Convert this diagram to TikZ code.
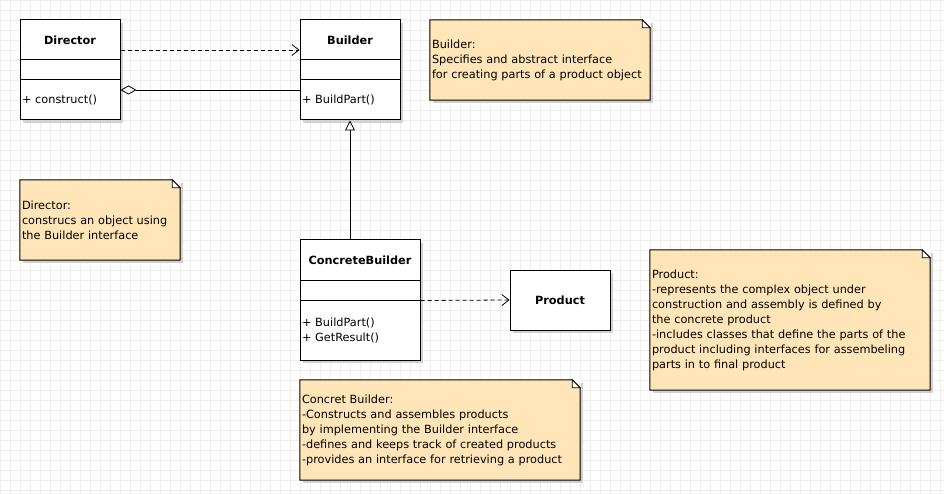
\documentclass[tikz,border=0pt]{standalone}
\usepackage{color, xcolor}
\usepackage{fontspec}
\setmainfont{DejaVu Sans}
\usepackage{tikz}
\usetikzlibrary{positioning,shapes,shadows,arrows.meta,calc}

\definecolor{notefill}{RGB}{255,229,183}
\definecolor{gridgray}{RGB}{238,238,238}

\tikzset{
  umlshadow/.style={drop shadow={shadow xshift=3pt, shadow yshift=-3pt, fill=black!18, opacity=1}},
  umlpart/.style={draw, line width=1pt, fill=white, inner sep=0pt, umlshadow},
  umlname/.style={umlpart, font=\fontsize{11.3}{15}\selectfont\bfseries},
  umlops/.style={umlpart, align=left, inner xsep=2pt},
  note/.style={fill=notefill, inner xsep=2pt, inner ysep=0pt, align=left, umlshadow},
  dep/.style={line width=0.8pt, dash pattern=on 4pt off 3pt, -{Straight Barb[length=7pt,width=11pt]}},
}

\begin{document}
\begin{tikzpicture}[x=1pt, y=-1pt, font=\fontsize{11.3}{15}\selectfont]
            \fill[white] (0,0) rectangle (944,494);
            \useasboundingbox (0,0) rectangle (944,494);
            \draw[gridgray, line width=0.8pt, step=10pt] (0,0) grid (944,494);

            % classes
            \node[umlname, minimum width=100pt, minimum height=40pt] (dirname) at (70,40) {Director};
            \node[umlpart, minimum width=100pt, minimum height=20pt] (dirattr) at (70,70) {};
            \node[umlops, text width=96pt, minimum height=40pt] (dirops) at (70,100) {+ construct()};

            \node[umlname, minimum width=100pt, minimum height=40pt] (bldname) at (350,40) {Builder};
            \node[umlpart, minimum width=100pt, minimum height=20pt] (bldattr) at (350,70) {};
            \node[umlops, text width=96pt, minimum height=40pt] (bldops) at (350,100) {+ BuildPart()};

            \node[umlname, minimum width=120pt, minimum height=40pt] (cbname) at (360,260) {ConcreteBuilder};
            \node[umlpart, minimum width=120pt, minimum height=20pt] (cbattr) at (360,290) {};
            \node[umlops, text width=116pt, minimum height=60pt] (cbops) at (360,330) {+ BuildPart()\\+ GetResult()};

            \node[umlname, minimum width=100pt, minimum height=60pt] (prodbox) at (560,300) {Product};

            % notes
            \node[note, text width=216pt, minimum height=80pt] (bldnote) at (540,60)
              {Builder:\\Specifies and abstract interface\\for creating parts of a product object};
            \node[note, text width=156pt, minimum height=80pt] (dirnote) at (100,220)
              {Director:\\construcs an object using\\the Builder interface};
            \node[note, text width=276pt, minimum height=140pt] (prodnote) at (790,320)
              {Product:\\-represents the complex object under\\construction and assembly is defined by\\the concrete product\\-includes classes that define the parts of the\\product including interfaces for assembeling\\parts in to final product};
            \node[note, text width=276pt, minimum height=100pt] (cbnote) at (440,430)
              {Concret Builder:\\-Constructs and assembles products\\by implementing the Builder interface\\-defines and keeps track of created products\\-provides an interface for retrieving a product};

            \foreach \n in {bldnote, dirnote, prodnote, cbnote} {
              \fill[white] ([xshift=-8.5pt,yshift=1pt]\n.north east) rectangle ([xshift=1pt,yshift=-8.5pt]\n.north east);
              \draw[line width=1pt, line join=miter] (\n.north west) -- ([xshift=-8pt]\n.north east)
                -- ([yshift=-8pt]\n.north east) -- (\n.south east) -- (\n.south west) -- cycle;
              \draw[line width=0.8pt, fill=white] ([xshift=-8pt]\n.north east) -- ([xshift=-8pt,yshift=-8pt]\n.north east)
                -- ([yshift=-8pt]\n.north east) -- cycle;
            }

            % connectors
            \draw[dep] ([yshift=-10pt]dirname.east) -- ([yshift=-10pt]bldname.west);
            \draw[line width=0.8pt, {Diamond[open,length=16pt,width=9pt]}-] ([yshift=10pt]dirops.east) -- ([yshift=10pt]bldops.west);
            \draw[line width=0.8pt, -{Triangle[open,length=10pt,width=10pt]}] (bldops.south |- cbname.north) -- (bldops.south);
            \draw[dep] (cbattr.south east) -- (prodbox.west);
          \end{tikzpicture}
\end{document}
